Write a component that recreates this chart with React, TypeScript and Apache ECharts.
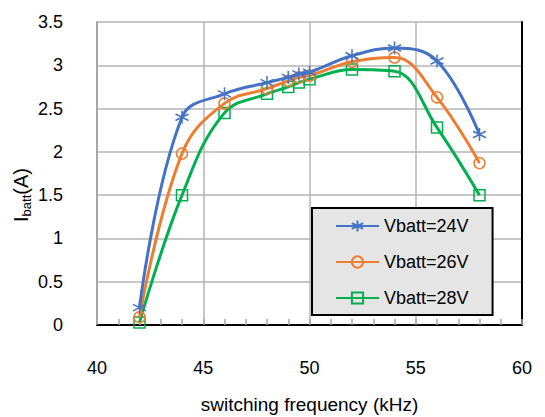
import React, { useEffect, useRef } from "react";
import * as echarts from "echarts";

const freq = [42, 44, 46, 48, 49, 49.5, 50, 52, 54, 56, 58];
const v24 = [0.2, 2.4, 2.67, 2.8, 2.86, 2.9, 2.92, 3.11, 3.2, 3.05, 2.2];
const v26 = [0.09, 1.98, 2.56, 2.73, 2.82, 2.86, 2.88, 3.04, 3.09, 2.63, 1.87];
const v28 = [0.03, 1.5, 2.45, 2.67, 2.75, 2.8, 2.84, 2.95, 2.93, 2.28, 1.5];
const seriesNames = ["Vbatt=24V", "Vbatt=26V", "Vbatt=28V"];
const xTitle = "switching frequency (kHz)";

const FONT = "Arial, 'Liberation Sans', sans-serif";
const asterisk = "path://M5,0 L5,10 M0.7,2.5 L9.3,7.5 M0.7,7.5 L9.3,2.5";

export default function App() {
  const ref = useRef<HTMLDivElement>(null);
  useEffect(() => {
    const chart = echarts.init(ref.current!, null, { renderer: "svg" });
    const mk = (arr: number[]) => arr.map((v, i) => [freq[i], v]);
    const colors = ["#4472C4", "#ED7D31", "#00B050"];
    const symbols = [asterisk, "circle", "rect"];
    const sizes = [13, 11, 11];
    const datas = [v24, v26, v28];
    chart.setOption({
      animation: false,
      grid: { left: 97, top: 22, right: 23, bottom: 92, containLabel: false, outerBoundsMode: "none" },
      xAxis: [
        {
          type: "value",
          min: 40,
          max: 60,
          interval: 5,
          name: xTitle,
          nameLocation: "middle",
          nameGap: 70,
          nameTextStyle: { fontFamily: FONT, fontSize: 19, color: "#000" },
          axisLine: { lineStyle: { color: "#a6a6a6", width: 2 } },
          axisTick: { show: true, inside: true, length: 6, lineStyle: { color: "#a6a6a6", width: 1.5 } },
          minorTick: { show: true, splitNumber: 5, length: 6, lineStyle: { color: "#a6a6a6", width: 1.5 } },
          axisLabel: { fontFamily: FONT, fontSize: 18, color: "#000", margin: 34 },
          splitLine: { show: true, lineStyle: { color: "#b4b4b4", width: 1.5 } },
        },
        {
          type: "value",
          position: "top",
          min: 40,
          max: 60,
          axisLine: { show: true, lineStyle: { color: "#000", width: 2 } },
          axisTick: { show: false },
          axisLabel: { show: false },
          splitLine: { show: false },
        },
      ],
      yAxis: [
        {
          type: "value",
          min: 0,
          max: 3.5,
          interval: 0.5,
          axisLine: { show: true, lineStyle: { color: "#a6a6a6", width: 2 } },
          axisTick: { show: false },
          axisLabel: { fontFamily: FONT, fontSize: 18, color: "#000", margin: 34 },
          splitLine: { show: true, lineStyle: { color: "#b4b4b4", width: 1.5 } },
        },
        {
          type: "value",
          position: "right",
          min: 0,
          max: 3.5,
          axisLine: { show: true, lineStyle: { color: "#000", width: 2 } },
          axisTick: { show: false },
          axisLabel: { show: false },
          splitLine: { show: false },
        },
      ],
      legend: {
        orient: "vertical",
        left: 312,
        top: 208,
        data: seriesNames,
        backgroundColor: "#e5e5e5",
        borderColor: "#000",
        borderWidth: 2,
        borderRadius: 0,
        padding: [9, 24, 8, 23],
        itemWidth: 43,
        itemHeight: 14,
        itemGap: 18,
        textStyle: { fontFamily: FONT, fontSize: 18, color: "#000" },
      },
      graphic: [
        {
          type: "text",
          x: 21,
          y: 195,
          rotation: Math.PI / 2,
          style: {
            text: "{a|I}{b|batt}{a|(A)}",
            align: "center",
            verticalAlign: "middle",
            rich: {
              a: { fontFamily: FONT, fontSize: 20, color: "#000", lineHeight: 24 },
              b: { fontFamily: FONT, fontSize: 13, color: "#000", verticalAlign: "bottom", lineHeight: 14 },
            },
          },
        },
      ],
      series: datas.map((d, i) => ({
        name: seriesNames[i],
        type: "line",
        data: mk(d),
        smooth: 0.4,
        symbol: symbols[i],
        symbolSize: sizes[i],
        showAllSymbol: true,
        lineStyle: { color: colors[i], width: 3 },
        itemStyle: {
          color: i === 0 ? colors[i] : "rgba(255,255,255,0)",
          borderColor: colors[i],
          borderWidth: 1.5,
        },
        z: 3 - i + 2,
      })),
    });
    return () => chart.dispose();
  }, []);
  return (
    <div
      ref={ref}
      style={{ position: "absolute", left: 0, top: 0, width: 545, height: 417 }}
    />
  );
}
